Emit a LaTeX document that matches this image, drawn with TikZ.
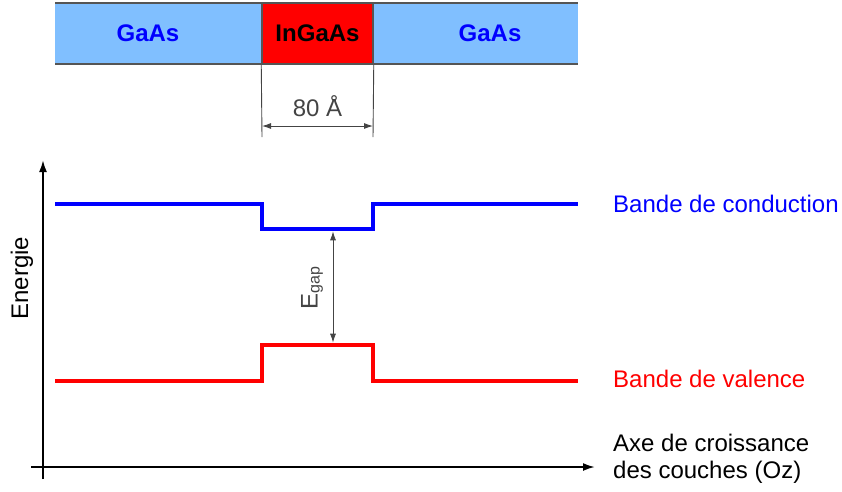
\documentclass[tikz,border=0pt]{standalone}
\usepackage{fontspec}
\setmainfont{Liberation Sans}
\usetikzlibrary{arrows.meta}
\definecolor{barblue}{RGB}{128,191,255}
\definecolor{bordergray}{RGB}{85,85,85}
\definecolor{dimgray}{RGB}{68,68,68}
\begin{document}
\begin{tikzpicture}[x=1pt,y=-1pt,
  every node/.style={font=\fontsize{24}{27}\selectfont, inner sep=0pt},
  layerlabel/.style={font=\fontsize{24}{27}\selectfont\bfseries},
  borderline/.style={draw=bordergray, line width=1.5pt},
  dimline/.style={draw=dimgray, line width=0.9pt},
  dimarrow/.style={draw=dimgray, line width=0.9pt, {Latex[length=9pt,width=6pt]}-{Latex[length=9pt,width=6pt]}},
  axisline/.style={draw=black, line width=2pt, -{Latex[length=12pt,width=8pt]}},
  band/.style={line width=4.5pt, line join=miter},
  bandlabel/.style={anchor=base west}
]
\useasboundingbox (0,0) rectangle (842,491);

% layer bar
\fill[barblue] (55,3) rectangle (578,64);
\draw[borderline] (55,3) -- (578,3) (55,64) -- (578,64);
\node[borderline, fill=red, minimum width=111pt, minimum height=61pt] (ingaas) at (317.5,33.5) {};
\node[layerlabel] (ingaastext) at (317.5,33) {InGaAs};
\node[layerlabel, text=blue] (gaasL) at (148,33) {GaAs};
\node[layerlabel, text=blue] (gaasR) at (490,33) {GaAs};

% dimension
\coordinate (extLb) at (262,137);
\coordinate (extRb) at (373,137);
\coordinate (dimA) at (262,126);
\coordinate (dimB) at (373,126);
\draw[dimline] (ingaas.south west) -- (extLb);
\draw[dimline] (ingaas.south east) -- (extRb);
\draw[dimarrow] (dimA) -- (dimB);
\node[text=dimgray] (dimtext) at (317.5,106) {80 Å};

% axes
\coordinate (yB) at (43,479);
\coordinate (yT) at (43,160);
\coordinate (xL) at (31,467);
\coordinate (xR) at (595,467);
\draw[axisline] (yB) -- (yT);
\draw[axisline] (xL) -- (xR);
\node[rotate=90] (energie) at (22,278) {Energie};

% bands
\coordinate (c1) at (55,204);
\coordinate (c2) at (262,204);
\coordinate (c3) at (262,229);
\coordinate (c4) at (373,229);
\coordinate (c5) at (373,204);
\coordinate (c6) at (578,204);
\coordinate (v1) at (55,381);
\coordinate (v2) at (262,381);
\coordinate (v3) at (262,345);
\coordinate (v4) at (373,345);
\coordinate (v5) at (373,381);
\coordinate (v6) at (578,381);
\draw[band, blue] (c1) -- (c2) -- (c3) -- (c4) -- (c5) -- (c6);
\draw[band, red] (v1) -- (v2) -- (v3) -- (v4) -- (v5) -- (v6);

% gap
\coordinate (gtop) at (333,229);
\coordinate (gbot) at (333,345);
\draw[dimarrow, shorten <=2.3pt, shorten >=2.3pt] (gtop) -- (gbot);
\node[rotate=90, text=dimgray] (egap) at (312,288) {E\raisebox{-2pt}{\fontsize{16}{16}\selectfont gap}};

% labels
\node[bandlabel, text=blue] (cblabel) at (613,212) {Bande de conduction};
\node[bandlabel, text=red] (vblabel) at (613,387) {Bande de valence};
\node[bandlabel, align=left] (axlabel) at (613,478) {Axe de croissance\\des couches (Oz)};
\end{tikzpicture}
\end{document}
